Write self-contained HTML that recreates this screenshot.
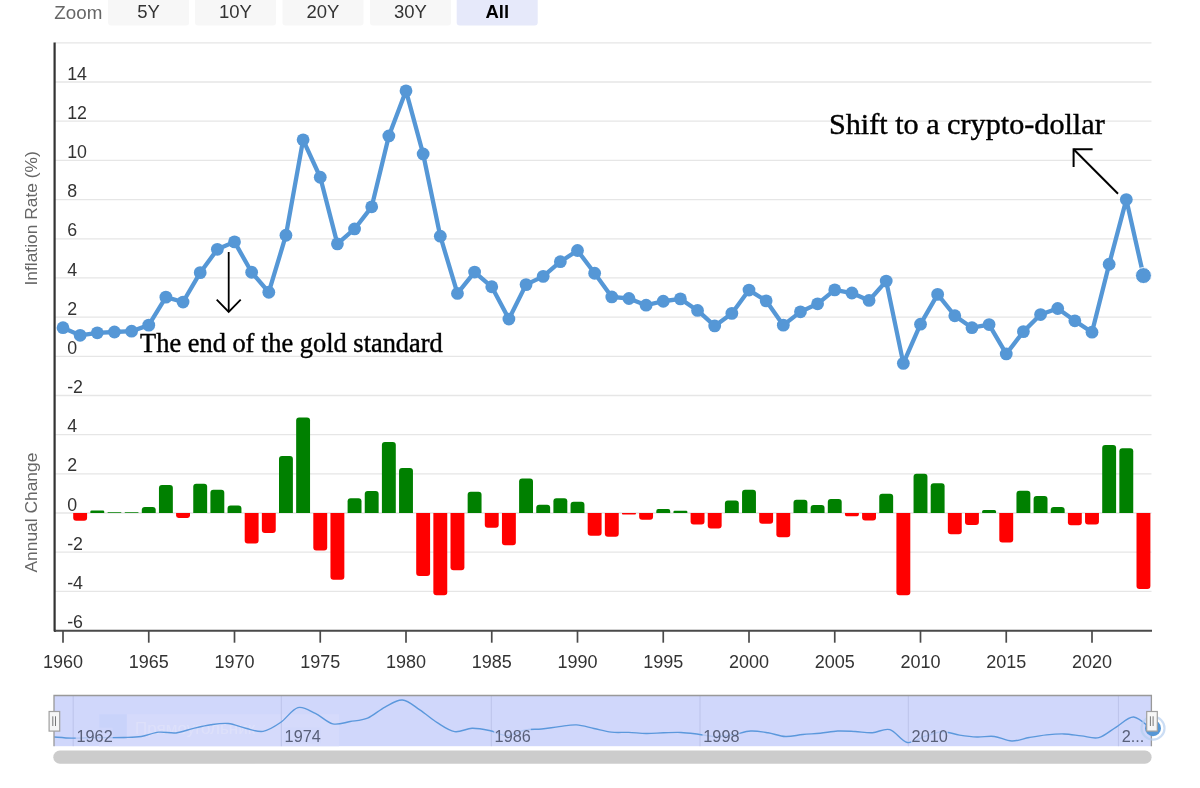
<!DOCTYPE html><html><head><meta charset="utf-8"><style>html,body{margin:0;padding:0;background:#fff;width:1200px;height:788px;overflow:hidden}svg{display:block;will-change:transform;filter:blur(0.45px)}text{font-family:"Liberation Sans",sans-serif}.ser{font-family:"Liberation Serif",serif}</style></head><body>
<svg width="1200" height="788" viewBox="0 0 1200 788">
<rect width="1200" height="788" fill="#fff"/>
<text x="54.3" y="19.2" font-size="18.8" fill="#666">Zoom</text>
<path d="M108.1 -4 H189.1 V22.6 Q189.1 25.6 186.1 25.6 H111.1 Q108.1 25.6 108.1 22.6 Z" fill="#f7f7f7"/>
<text x="148.6" y="18.4" font-size="18.5" text-anchor="middle" fill="#333">5Y</text>
<path d="M195 -4 H276 V22.6 Q276 25.6 273 25.6 H198 Q195 25.6 195 22.6 Z" fill="#f7f7f7"/>
<text x="235.5" y="18.4" font-size="18.5" text-anchor="middle" fill="#333">10Y</text>
<path d="M282.5 -4 H363.5 V22.6 Q363.5 25.6 360.5 25.6 H285.5 Q282.5 25.6 282.5 22.6 Z" fill="#f7f7f7"/>
<text x="323.0" y="18.4" font-size="18.5" text-anchor="middle" fill="#333">20Y</text>
<path d="M370 -4 H451 V22.6 Q451 25.6 448 25.6 H373 Q370 25.6 370 22.6 Z" fill="#f7f7f7"/>
<text x="410.5" y="18.4" font-size="18.5" text-anchor="middle" fill="#333">30Y</text>
<path d="M456.7 -4 H537.7 V22.6 Q537.7 25.6 534.7 25.6 H459.7 Q456.7 25.6 456.7 22.6 Z" fill="#e6e9fa"/>
<text x="497.2" y="18.4" font-size="18.5" font-weight="bold" text-anchor="middle" fill="#000">All</text>
<line x1="55.0" y1="42.9" x2="1151.5" y2="42.9" stroke="#e6e6e6" stroke-width="1.3"/>
<line x1="55.0" y1="82.0" x2="1151.5" y2="82.0" stroke="#e6e6e6" stroke-width="1.3"/>
<line x1="55.0" y1="121.2" x2="1151.5" y2="121.2" stroke="#e6e6e6" stroke-width="1.3"/>
<line x1="55.0" y1="160.4" x2="1151.5" y2="160.4" stroke="#e6e6e6" stroke-width="1.3"/>
<line x1="55.0" y1="199.6" x2="1151.5" y2="199.6" stroke="#e6e6e6" stroke-width="1.3"/>
<line x1="55.0" y1="238.8" x2="1151.5" y2="238.8" stroke="#e6e6e6" stroke-width="1.3"/>
<line x1="55.0" y1="277.9" x2="1151.5" y2="277.9" stroke="#e6e6e6" stroke-width="1.3"/>
<line x1="55.0" y1="317.1" x2="1151.5" y2="317.1" stroke="#e6e6e6" stroke-width="1.3"/>
<line x1="55.0" y1="356.3" x2="1151.5" y2="356.3" stroke="#e6e6e6" stroke-width="1.3"/>
<line x1="55.0" y1="395.5" x2="1151.5" y2="395.5" stroke="#e6e6e6" stroke-width="1.3"/>
<line x1="55.0" y1="434.7" x2="1151.5" y2="434.7" stroke="#e6e6e6" stroke-width="1.3"/>
<line x1="55.0" y1="473.8" x2="1151.5" y2="473.8" stroke="#e6e6e6" stroke-width="1.3"/>
<line x1="55.0" y1="513.0" x2="1151.5" y2="513.0" stroke="#e6e6e6" stroke-width="1.3"/>
<line x1="55.0" y1="552.2" x2="1151.5" y2="552.2" stroke="#e6e6e6" stroke-width="1.3"/>
<line x1="55.0" y1="591.4" x2="1151.5" y2="591.4" stroke="#e6e6e6" stroke-width="1.3"/>
<line x1="55.0" y1="630.6" x2="1151.5" y2="630.6" stroke="#e6e6e6" stroke-width="1.3"/>
<text x="67.2" y="79.6" font-size="17.8" fill="#333">14</text>
<text x="67.2" y="118.8" font-size="17.8" fill="#333">12</text>
<text x="67.2" y="158.0" font-size="17.8" fill="#333">10</text>
<text x="67.2" y="197.2" font-size="17.8" fill="#333">8</text>
<text x="67.2" y="236.4" font-size="17.8" fill="#333">6</text>
<text x="67.2" y="275.5" font-size="17.8" fill="#333">4</text>
<text x="67.2" y="314.7" font-size="17.8" fill="#333">2</text>
<text x="67.2" y="353.9" font-size="17.8" fill="#333">0</text>
<text x="67.2" y="393.1" font-size="17.8" fill="#333">-2</text>
<text x="67.2" y="432.3" font-size="17.8" fill="#333">4</text>
<text x="67.2" y="471.4" font-size="17.8" fill="#333">2</text>
<text x="67.2" y="510.6" font-size="17.8" fill="#333">0</text>
<text x="67.2" y="549.8" font-size="17.8" fill="#333">-2</text>
<text x="67.2" y="589.0" font-size="17.8" fill="#333">-4</text>
<text x="67.2" y="628.2" font-size="17.8" fill="#333">-6</text>
<text transform="translate(36.5 218.4) rotate(-90)" font-size="17.4" fill="#666" text-anchor="middle">Inflation Rate (%)</text>
<text transform="translate(36.8 512.6) rotate(-90)" font-size="17.4" fill="#666" text-anchor="middle">Annual Change</text>
<path d="M73.20 513.02 V517.66 Q73.20 520.66 76.20 520.66 H84.10 Q87.10 520.66 87.10 517.66 V513.02 Z" fill="#ff0000"/>
<path d="M90.35 513.02 V511.75 Q90.35 510.47 91.62 510.47 H102.98 Q104.25 510.47 104.25 511.75 V513.02 Z" fill="#008000"/>
<path d="M107.50 513.02 V512.63 Q107.50 512.24 107.89 512.24 H121.01 Q121.40 512.24 121.40 512.63 V513.02 Z" fill="#008000"/>
<path d="M124.65 513.02 V512.63 Q124.65 512.24 125.04 512.24 H138.16 Q138.55 512.24 138.55 512.63 V513.02 Z" fill="#008000"/>
<path d="M141.80 513.02 V509.95 Q141.80 506.95 144.80 506.95 H152.70 Q155.70 506.95 155.70 509.95 V513.02 Z" fill="#008000"/>
<path d="M158.95 513.02 V488.01 Q158.95 485.01 161.95 485.01 H169.85 Q172.85 485.01 172.85 488.01 V513.02 Z" fill="#008000"/>
<path d="M176.10 513.02 V515.47 Q176.10 517.92 178.55 517.92 H187.55 Q190.00 517.92 190.00 515.47 V513.02 Z" fill="#ff0000"/>
<path d="M193.25 513.02 V486.63 Q193.25 483.63 196.25 483.63 H204.15 Q207.15 483.63 207.15 486.63 V513.02 Z" fill="#008000"/>
<path d="M210.40 513.02 V492.71 Q210.40 489.71 213.40 489.71 H221.30 Q224.30 489.71 224.30 492.71 V513.02 Z" fill="#008000"/>
<path d="M227.55 513.02 V508.58 Q227.55 505.58 230.55 505.58 H238.45 Q241.45 505.58 241.45 508.58 V513.02 Z" fill="#008000"/>
<path d="M244.70 513.02 V540.38 Q244.70 543.38 247.70 543.38 H255.60 Q258.60 543.38 258.60 540.38 V513.02 Z" fill="#ff0000"/>
<path d="M261.85 513.02 V530.00 Q261.85 533.00 264.85 533.00 H272.75 Q275.75 533.00 275.75 530.00 V513.02 Z" fill="#ff0000"/>
<path d="M279.00 513.02 V459.01 Q279.00 456.01 282.00 456.01 H289.90 Q292.90 456.01 292.90 459.01 V513.02 Z" fill="#008000"/>
<path d="M296.15 513.02 V420.62 Q296.15 417.62 299.15 417.62 H307.05 Q310.05 417.62 310.05 420.62 V513.02 Z" fill="#008000"/>
<path d="M313.30 513.02 V547.44 Q313.30 550.44 316.30 550.44 H324.20 Q327.20 550.44 327.20 547.44 V513.02 Z" fill="#ff0000"/>
<path d="M330.45 513.02 V576.63 Q330.45 579.63 333.45 579.63 H341.35 Q344.35 579.63 344.35 576.63 V513.02 Z" fill="#ff0000"/>
<path d="M347.60 513.02 V501.13 Q347.60 498.13 350.60 498.13 H358.50 Q361.50 498.13 361.50 501.13 V513.02 Z" fill="#008000"/>
<path d="M364.75 513.02 V493.88 Q364.75 490.88 367.75 490.88 H375.65 Q378.65 490.88 378.65 493.88 V513.02 Z" fill="#008000"/>
<path d="M381.90 513.02 V445.10 Q381.90 442.10 384.90 442.10 H392.80 Q395.80 442.10 395.80 445.10 V513.02 Z" fill="#008000"/>
<path d="M399.05 513.02 V470.96 Q399.05 467.96 402.05 467.96 H409.95 Q412.95 467.96 412.95 470.96 V513.02 Z" fill="#008000"/>
<path d="M416.20 513.02 V573.10 Q416.20 576.10 419.20 576.10 H427.10 Q430.10 576.10 430.10 573.10 V513.02 Z" fill="#ff0000"/>
<path d="M433.35 513.02 V592.30 Q433.35 595.30 436.35 595.30 H444.25 Q447.25 595.30 447.25 592.30 V513.02 Z" fill="#ff0000"/>
<path d="M450.50 513.02 V567.22 Q450.50 570.22 453.50 570.22 H461.40 Q464.40 570.22 464.40 567.22 V513.02 Z" fill="#ff0000"/>
<path d="M467.65 513.02 V494.67 Q467.65 491.67 470.65 491.67 H478.55 Q481.55 491.67 481.55 494.67 V513.02 Z" fill="#008000"/>
<path d="M484.80 513.02 V524.71 Q484.80 527.71 487.80 527.71 H495.70 Q498.70 527.71 498.70 524.71 V513.02 Z" fill="#ff0000"/>
<path d="M501.95 513.02 V542.34 Q501.95 545.34 504.95 545.34 H512.85 Q515.85 545.34 515.85 542.34 V513.02 Z" fill="#ff0000"/>
<path d="M519.10 513.02 V481.54 Q519.10 478.54 522.10 478.54 H530.00 Q533.00 478.54 533.00 481.54 V513.02 Z" fill="#008000"/>
<path d="M536.25 513.02 V507.79 Q536.25 504.79 539.25 504.79 H547.15 Q550.15 504.79 550.15 507.79 V513.02 Z" fill="#008000"/>
<path d="M553.40 513.02 V501.33 Q553.40 498.33 556.40 498.33 H564.30 Q567.30 498.33 567.30 501.33 V513.02 Z" fill="#008000"/>
<path d="M570.55 513.02 V504.85 Q570.55 501.85 573.55 501.85 H581.45 Q584.45 501.85 584.45 504.85 V513.02 Z" fill="#008000"/>
<path d="M587.70 513.02 V532.74 Q587.70 535.74 590.70 535.74 H598.60 Q601.60 535.74 601.60 532.74 V513.02 Z" fill="#ff0000"/>
<path d="M604.85 513.02 V533.72 Q604.85 536.72 607.85 536.72 H615.75 Q618.75 536.72 618.75 533.72 V513.02 Z" fill="#ff0000"/>
<path d="M622.00 513.02 V513.80 Q622.00 514.59 622.78 514.59 H635.12 Q635.90 514.59 635.90 513.80 V513.02 Z" fill="#ff0000"/>
<path d="M639.15 513.02 V516.68 Q639.15 519.68 642.15 519.68 H650.05 Q653.05 519.68 653.05 516.68 V513.02 Z" fill="#ff0000"/>
<path d="M656.30 513.02 V511.06 Q656.30 509.10 658.26 509.10 H668.24 Q670.20 509.10 670.20 511.06 V513.02 Z" fill="#008000"/>
<path d="M673.45 513.02 V511.84 Q673.45 510.67 674.63 510.67 H686.17 Q687.35 510.67 687.35 511.84 V513.02 Z" fill="#008000"/>
<path d="M690.60 513.02 V521.58 Q690.60 524.58 693.60 524.58 H701.50 Q704.50 524.58 704.50 521.58 V513.02 Z" fill="#ff0000"/>
<path d="M707.75 513.02 V525.50 Q707.75 528.50 710.75 528.50 H718.65 Q721.65 528.50 721.65 525.50 V513.02 Z" fill="#ff0000"/>
<path d="M724.90 513.02 V503.48 Q724.90 500.48 727.90 500.48 H735.80 Q738.80 500.48 738.80 503.48 V513.02 Z" fill="#008000"/>
<path d="M742.05 513.02 V492.71 Q742.05 489.71 745.05 489.71 H752.95 Q755.95 489.71 755.95 492.71 V513.02 Z" fill="#008000"/>
<path d="M759.20 513.02 V520.79 Q759.20 523.79 762.20 523.79 H770.10 Q773.10 523.79 773.10 520.79 V513.02 Z" fill="#ff0000"/>
<path d="M776.35 513.02 V534.31 Q776.35 537.31 779.35 537.31 H787.25 Q790.25 537.31 790.25 534.31 V513.02 Z" fill="#ff0000"/>
<path d="M793.50 513.02 V502.70 Q793.50 499.70 796.50 499.70 H804.40 Q807.40 499.70 807.40 502.70 V513.02 Z" fill="#008000"/>
<path d="M810.65 513.02 V507.99 Q810.65 504.99 813.65 504.99 H821.55 Q824.55 504.99 824.55 507.99 V513.02 Z" fill="#008000"/>
<path d="M827.80 513.02 V502.11 Q827.80 499.11 830.80 499.11 H838.70 Q841.70 499.11 841.70 502.11 V513.02 Z" fill="#008000"/>
<path d="M844.95 513.02 V514.59 Q844.95 516.15 846.52 516.15 H857.28 Q858.85 516.15 858.85 514.59 V513.02 Z" fill="#ff0000"/>
<path d="M862.10 513.02 V517.46 Q862.10 520.46 865.10 520.46 H873.00 Q876.00 520.46 876.00 517.46 V513.02 Z" fill="#ff0000"/>
<path d="M879.25 513.02 V496.63 Q879.25 493.63 882.25 493.63 H890.15 Q893.15 493.63 893.15 496.63 V513.02 Z" fill="#008000"/>
<path d="M896.40 513.02 V592.30 Q896.40 595.30 899.40 595.30 H907.30 Q910.30 595.30 910.30 592.30 V513.02 Z" fill="#ff0000"/>
<path d="M913.55 513.02 V476.84 Q913.55 473.84 916.55 473.84 H924.45 Q927.45 473.84 927.45 476.84 V513.02 Z" fill="#008000"/>
<path d="M930.70 513.02 V486.24 Q930.70 483.24 933.70 483.24 H941.60 Q944.60 483.24 944.60 486.24 V513.02 Z" fill="#008000"/>
<path d="M947.85 513.02 V531.37 Q947.85 534.37 950.85 534.37 H958.75 Q961.75 534.37 961.75 531.37 V513.02 Z" fill="#ff0000"/>
<path d="M965.00 513.02 V521.97 Q965.00 524.97 968.00 524.97 H975.90 Q978.90 524.97 978.90 521.97 V513.02 Z" fill="#ff0000"/>
<path d="M982.15 513.02 V511.45 Q982.15 509.89 983.72 509.89 H994.48 Q996.05 509.89 996.05 511.45 V513.02 Z" fill="#008000"/>
<path d="M999.30 513.02 V539.40 Q999.30 542.40 1002.30 542.40 H1010.20 Q1013.20 542.40 1013.20 539.40 V513.02 Z" fill="#ff0000"/>
<path d="M1016.45 513.02 V493.69 Q1016.45 490.69 1019.45 490.69 H1027.35 Q1030.35 490.69 1030.35 493.69 V513.02 Z" fill="#008000"/>
<path d="M1033.60 513.02 V498.98 Q1033.60 495.98 1036.60 495.98 H1044.50 Q1047.50 495.98 1047.50 498.98 V513.02 Z" fill="#008000"/>
<path d="M1050.75 513.02 V509.95 Q1050.75 506.95 1053.75 506.95 H1061.65 Q1064.65 506.95 1064.65 509.95 V513.02 Z" fill="#008000"/>
<path d="M1067.90 513.02 V522.36 Q1067.90 525.36 1070.90 525.36 H1078.80 Q1081.80 525.36 1081.80 522.36 V513.02 Z" fill="#ff0000"/>
<path d="M1085.05 513.02 V521.38 Q1085.05 524.38 1088.05 524.38 H1095.95 Q1098.95 524.38 1098.95 521.38 V513.02 Z" fill="#ff0000"/>
<path d="M1102.20 513.02 V448.04 Q1102.20 445.04 1105.20 445.04 H1113.10 Q1116.10 445.04 1116.10 448.04 V513.02 Z" fill="#008000"/>
<path d="M1119.35 513.02 V451.37 Q1119.35 448.37 1122.35 448.37 H1130.25 Q1133.25 448.37 1133.25 451.37 V513.02 Z" fill="#008000"/>
<path d="M1136.50 513.02 V586.03 Q1136.50 589.03 1139.50 589.03 H1147.40 Q1150.40 589.03 1150.40 586.03 V513.02 Z" fill="#ff0000"/>
<path d="M54.6 42.5 V630.8 H56" fill="none" stroke="#333" stroke-width="2.2" stroke-linejoin="round"/>
<line x1="55" y1="630.8" x2="1152" y2="630.8" stroke="#4a4a4a" stroke-width="1.9"/>
<line x1="63.00" y1="631" x2="63.00" y2="642.7" stroke="#4a4a4a" stroke-width="1.7"/>
<text x="63.00" y="667.6" font-size="18" text-anchor="middle" fill="#333">1960</text>
<line x1="148.75" y1="631" x2="148.75" y2="642.7" stroke="#4a4a4a" stroke-width="1.7"/>
<text x="148.75" y="667.6" font-size="18" text-anchor="middle" fill="#333">1965</text>
<line x1="234.50" y1="631" x2="234.50" y2="642.7" stroke="#4a4a4a" stroke-width="1.7"/>
<text x="234.50" y="667.6" font-size="18" text-anchor="middle" fill="#333">1970</text>
<line x1="320.25" y1="631" x2="320.25" y2="642.7" stroke="#4a4a4a" stroke-width="1.7"/>
<text x="320.25" y="667.6" font-size="18" text-anchor="middle" fill="#333">1975</text>
<line x1="406.00" y1="631" x2="406.00" y2="642.7" stroke="#4a4a4a" stroke-width="1.7"/>
<text x="406.00" y="667.6" font-size="18" text-anchor="middle" fill="#333">1980</text>
<line x1="491.75" y1="631" x2="491.75" y2="642.7" stroke="#4a4a4a" stroke-width="1.7"/>
<text x="491.75" y="667.6" font-size="18" text-anchor="middle" fill="#333">1985</text>
<line x1="577.50" y1="631" x2="577.50" y2="642.7" stroke="#4a4a4a" stroke-width="1.7"/>
<text x="577.50" y="667.6" font-size="18" text-anchor="middle" fill="#333">1990</text>
<line x1="663.25" y1="631" x2="663.25" y2="642.7" stroke="#4a4a4a" stroke-width="1.7"/>
<text x="663.25" y="667.6" font-size="18" text-anchor="middle" fill="#333">1995</text>
<line x1="749.00" y1="631" x2="749.00" y2="642.7" stroke="#4a4a4a" stroke-width="1.7"/>
<text x="749.00" y="667.6" font-size="18" text-anchor="middle" fill="#333">2000</text>
<line x1="834.75" y1="631" x2="834.75" y2="642.7" stroke="#4a4a4a" stroke-width="1.7"/>
<text x="834.75" y="667.6" font-size="18" text-anchor="middle" fill="#333">2005</text>
<line x1="920.50" y1="631" x2="920.50" y2="642.7" stroke="#4a4a4a" stroke-width="1.7"/>
<text x="920.50" y="667.6" font-size="18" text-anchor="middle" fill="#333">2010</text>
<line x1="1006.25" y1="631" x2="1006.25" y2="642.7" stroke="#4a4a4a" stroke-width="1.7"/>
<text x="1006.25" y="667.6" font-size="18" text-anchor="middle" fill="#333">2015</text>
<line x1="1092.00" y1="631" x2="1092.00" y2="642.7" stroke="#4a4a4a" stroke-width="1.7"/>
<text x="1092.00" y="667.6" font-size="18" text-anchor="middle" fill="#333">2020</text>
<polyline points="63.00,327.70 80.15,335.34 97.30,332.79 114.45,332.01 131.60,331.22 148.75,325.15 165.90,297.14 183.05,302.04 200.20,272.65 217.35,249.34 234.50,241.89 251.65,272.26 268.80,292.24 285.95,235.23 303.10,139.83 320.25,177.25 337.40,243.85 354.55,228.97 371.70,206.83 388.85,135.91 406.00,90.86 423.15,153.94 440.30,236.21 457.45,293.42 474.60,272.06 491.75,286.76 508.90,319.08 526.05,284.60 543.20,276.37 560.35,261.68 577.50,250.51 594.65,273.24 611.80,296.94 628.95,298.51 646.10,305.17 663.25,301.25 680.40,298.90 697.55,310.46 714.70,325.94 731.85,313.40 749.00,290.09 766.15,300.86 783.30,325.15 800.45,311.83 817.60,303.80 834.75,289.89 851.90,293.02 869.05,300.47 886.20,281.07 903.35,363.35 920.50,324.17 937.65,294.40 954.80,315.75 971.95,327.70 989.10,324.56 1006.25,353.95 1023.40,331.62 1040.55,314.57 1057.70,308.50 1074.85,320.84 1092.00,332.20 1109.15,264.23 1126.30,199.58 1143.45,275.59" fill="none" stroke="#5597d6" stroke-width="4.3" stroke-linejoin="round" stroke-linecap="round"/>
<circle cx="63.00" cy="327.70" r="6.4" fill="#5597d6"/>
<circle cx="80.15" cy="335.34" r="6.4" fill="#5597d6"/>
<circle cx="97.30" cy="332.79" r="6.4" fill="#5597d6"/>
<circle cx="114.45" cy="332.01" r="6.4" fill="#5597d6"/>
<circle cx="131.60" cy="331.22" r="6.4" fill="#5597d6"/>
<circle cx="148.75" cy="325.15" r="6.4" fill="#5597d6"/>
<circle cx="165.90" cy="297.14" r="6.4" fill="#5597d6"/>
<circle cx="183.05" cy="302.04" r="6.4" fill="#5597d6"/>
<circle cx="200.20" cy="272.65" r="6.4" fill="#5597d6"/>
<circle cx="217.35" cy="249.34" r="6.4" fill="#5597d6"/>
<circle cx="234.50" cy="241.89" r="6.4" fill="#5597d6"/>
<circle cx="251.65" cy="272.26" r="6.4" fill="#5597d6"/>
<circle cx="268.80" cy="292.24" r="6.4" fill="#5597d6"/>
<circle cx="285.95" cy="235.23" r="6.4" fill="#5597d6"/>
<circle cx="303.10" cy="139.83" r="6.4" fill="#5597d6"/>
<circle cx="320.25" cy="177.25" r="6.4" fill="#5597d6"/>
<circle cx="337.40" cy="243.85" r="6.4" fill="#5597d6"/>
<circle cx="354.55" cy="228.97" r="6.4" fill="#5597d6"/>
<circle cx="371.70" cy="206.83" r="6.4" fill="#5597d6"/>
<circle cx="388.85" cy="135.91" r="6.4" fill="#5597d6"/>
<circle cx="406.00" cy="90.86" r="6.4" fill="#5597d6"/>
<circle cx="423.15" cy="153.94" r="6.4" fill="#5597d6"/>
<circle cx="440.30" cy="236.21" r="6.4" fill="#5597d6"/>
<circle cx="457.45" cy="293.42" r="6.4" fill="#5597d6"/>
<circle cx="474.60" cy="272.06" r="6.4" fill="#5597d6"/>
<circle cx="491.75" cy="286.76" r="6.4" fill="#5597d6"/>
<circle cx="508.90" cy="319.08" r="6.4" fill="#5597d6"/>
<circle cx="526.05" cy="284.60" r="6.4" fill="#5597d6"/>
<circle cx="543.20" cy="276.37" r="6.4" fill="#5597d6"/>
<circle cx="560.35" cy="261.68" r="6.4" fill="#5597d6"/>
<circle cx="577.50" cy="250.51" r="6.4" fill="#5597d6"/>
<circle cx="594.65" cy="273.24" r="6.4" fill="#5597d6"/>
<circle cx="611.80" cy="296.94" r="6.4" fill="#5597d6"/>
<circle cx="628.95" cy="298.51" r="6.4" fill="#5597d6"/>
<circle cx="646.10" cy="305.17" r="6.4" fill="#5597d6"/>
<circle cx="663.25" cy="301.25" r="6.4" fill="#5597d6"/>
<circle cx="680.40" cy="298.90" r="6.4" fill="#5597d6"/>
<circle cx="697.55" cy="310.46" r="6.4" fill="#5597d6"/>
<circle cx="714.70" cy="325.94" r="6.4" fill="#5597d6"/>
<circle cx="731.85" cy="313.40" r="6.4" fill="#5597d6"/>
<circle cx="749.00" cy="290.09" r="6.4" fill="#5597d6"/>
<circle cx="766.15" cy="300.86" r="6.4" fill="#5597d6"/>
<circle cx="783.30" cy="325.15" r="6.4" fill="#5597d6"/>
<circle cx="800.45" cy="311.83" r="6.4" fill="#5597d6"/>
<circle cx="817.60" cy="303.80" r="6.4" fill="#5597d6"/>
<circle cx="834.75" cy="289.89" r="6.4" fill="#5597d6"/>
<circle cx="851.90" cy="293.02" r="6.4" fill="#5597d6"/>
<circle cx="869.05" cy="300.47" r="6.4" fill="#5597d6"/>
<circle cx="886.20" cy="281.07" r="6.4" fill="#5597d6"/>
<circle cx="903.35" cy="363.35" r="6.4" fill="#5597d6"/>
<circle cx="920.50" cy="324.17" r="6.4" fill="#5597d6"/>
<circle cx="937.65" cy="294.40" r="6.4" fill="#5597d6"/>
<circle cx="954.80" cy="315.75" r="6.4" fill="#5597d6"/>
<circle cx="971.95" cy="327.70" r="6.4" fill="#5597d6"/>
<circle cx="989.10" cy="324.56" r="6.4" fill="#5597d6"/>
<circle cx="1006.25" cy="353.95" r="6.4" fill="#5597d6"/>
<circle cx="1023.40" cy="331.62" r="6.4" fill="#5597d6"/>
<circle cx="1040.55" cy="314.57" r="6.4" fill="#5597d6"/>
<circle cx="1057.70" cy="308.50" r="6.4" fill="#5597d6"/>
<circle cx="1074.85" cy="320.84" r="6.4" fill="#5597d6"/>
<circle cx="1092.00" cy="332.20" r="6.4" fill="#5597d6"/>
<circle cx="1109.15" cy="264.23" r="6.4" fill="#5597d6"/>
<circle cx="1126.30" cy="199.58" r="6.4" fill="#5597d6"/>
<circle cx="1143.45" cy="275.59" r="8" fill="#5597d6" stroke="#fff" stroke-width="1"/>
<text class="ser" x="140.1" y="351.5" font-size="26.4" fill="#000" stroke="#000" stroke-width="0.4">The end of the gold standard</text>
<line x1="228.7" y1="252" x2="228.7" y2="312" stroke="#000" stroke-width="1.8"/>
<polyline points="216.7,299.7 228.7,312 240.7,299.7" fill="none" stroke="#000" stroke-width="1.8"/>
<text class="ser" x="828.9" y="133.5" font-size="30.2" fill="#000" stroke="#000" stroke-width="0.4">Shift to a crypto-dollar</text>
<line x1="1118" y1="193.7" x2="1073.6" y2="149.3" stroke="#000" stroke-width="2"/>
<polyline points="1092.6,149.3 1073.6,149.3 1073.6,167" fill="none" stroke="#000" stroke-width="2"/>
<rect x="54.0" y="695.5" width="1097.4" height="50.700000000000045" fill="#d0d7fb"/>
<rect x="99" y="714.2" width="240" height="32" fill="#d5dafb"/>
<rect x="99.2" y="714.2" width="27.6" height="24.8" fill="#c9d3fa"/>
<text x="135" y="734" font-size="17" fill="#dde0fa">Прямоугольник</text>
<line x1="73.2" y1="695.5" x2="73.2" y2="746.2" stroke="#bcc3ea" stroke-width="1"/>
<line x1="281.3" y1="695.5" x2="281.3" y2="746.2" stroke="#bcc3ea" stroke-width="1"/>
<line x1="491.3" y1="695.5" x2="491.3" y2="746.2" stroke="#bcc3ea" stroke-width="1"/>
<line x1="700" y1="695.5" x2="700" y2="746.2" stroke="#bcc3ea" stroke-width="1"/>
<line x1="908.3" y1="695.5" x2="908.3" y2="746.2" stroke="#bcc3ea" stroke-width="1"/>
<line x1="1118.4" y1="695.5" x2="1118.4" y2="746.2" stroke="#bcc3ea" stroke-width="1"/>
<path d="M54.20 736.94 C57.10 737.14 65.81 738.00 71.61 738.13 C77.41 738.26 83.22 737.82 89.02 737.73 C94.82 737.65 100.63 737.65 106.43 737.61 C112.23 737.57 118.04 737.67 123.84 737.49 C129.64 737.31 135.45 737.43 141.25 736.54 C147.05 735.66 152.86 732.77 158.66 732.17 C164.46 731.57 170.27 733.57 176.07 732.94 C181.87 732.30 187.68 729.73 193.48 728.36 C199.28 726.99 205.09 725.52 210.89 724.72 C216.69 723.92 222.50 722.96 228.30 723.56 C234.10 724.15 239.91 726.99 245.71 728.29 C251.51 729.60 257.32 732.37 263.12 731.41 C268.92 730.45 274.73 726.48 280.53 722.52 C286.33 718.56 292.14 709.15 297.94 707.64 C303.74 706.14 309.55 710.77 315.35 713.48 C321.15 716.18 326.96 722.52 332.76 723.86 C338.56 725.21 344.37 722.51 350.17 721.54 C355.97 720.58 361.78 720.51 367.58 718.09 C373.38 715.67 379.19 710.05 384.99 707.03 C390.79 704.02 396.60 699.54 402.40 700.00 C408.20 700.47 414.01 706.06 419.81 709.84 C425.61 713.62 431.42 719.05 437.22 722.67 C443.02 726.30 448.83 730.66 454.63 731.59 C460.43 732.53 466.24 728.44 472.04 728.26 C477.84 728.09 483.65 729.33 489.45 730.55 C495.25 731.78 501.06 735.65 506.86 735.60 C512.66 735.54 518.47 731.33 524.27 730.22 C530.07 729.11 535.88 729.53 541.68 728.94 C547.48 728.34 553.29 727.32 559.09 726.64 C564.89 725.97 570.70 724.60 576.50 724.90 C582.30 725.20 588.11 727.24 593.91 728.45 C599.71 729.65 605.52 731.49 611.32 732.14 C617.12 732.80 622.93 732.17 628.73 732.39 C634.53 732.60 640.34 733.36 646.14 733.43 C651.94 733.50 657.75 732.98 663.55 732.82 C669.35 732.65 675.16 732.21 680.96 732.45 C686.76 732.69 692.57 733.55 698.37 734.25 C704.17 734.95 709.98 736.59 715.78 736.66 C721.58 736.74 727.39 735.64 733.19 734.71 C738.99 733.78 744.80 731.40 750.60 731.07 C756.40 730.75 762.21 731.84 768.01 732.75 C773.81 733.67 779.62 736.26 785.42 736.54 C791.22 736.83 797.03 735.02 802.83 734.47 C808.63 733.91 814.44 733.78 820.24 733.21 C826.04 732.64 831.85 731.32 837.65 731.04 C843.45 730.76 849.26 731.26 855.06 731.53 C860.86 731.81 866.67 733.00 872.47 732.69 C878.27 732.38 884.08 728.03 889.88 729.67 C895.68 731.30 901.49 741.38 907.29 742.50 C913.09 743.62 918.90 738.18 924.70 736.39 C930.50 734.60 936.31 731.97 942.11 731.75 C947.91 731.53 953.72 734.21 959.52 735.08 C965.32 735.94 971.13 736.71 976.93 736.94 C982.73 737.17 988.54 735.77 994.34 736.45 C1000.14 737.13 1005.95 740.85 1011.75 741.03 C1017.55 741.22 1023.36 738.57 1029.16 737.55 C1034.96 736.53 1040.77 735.49 1046.57 734.89 C1052.37 734.29 1058.18 733.78 1063.98 733.95 C1069.78 734.11 1075.59 735.25 1081.39 735.87 C1087.19 736.49 1093.00 739.11 1098.80 737.64 C1104.60 736.17 1110.41 730.49 1116.21 727.04 C1122.01 723.59 1127.82 716.66 1133.62 716.96 C1139.42 717.26 1148.13 726.84 1151.03 728.81" fill="none" stroke="#5b98dc" stroke-width="1.4"/>
<rect x="75.7" y="727.5" width="37" height="16" fill="#d0d7fb" opacity="0.75"/>
<text x="76.5" y="741.7" font-size="16.3" fill="#596079">1962</text>
<rect x="283.8" y="727.5" width="37" height="16" fill="#d0d7fb" opacity="0.75"/>
<text x="284.6" y="741.7" font-size="16.3" fill="#596079">1974</text>
<rect x="493.8" y="727.5" width="37" height="16" fill="#d0d7fb" opacity="0.75"/>
<text x="494.6" y="741.7" font-size="16.3" fill="#596079">1986</text>
<rect x="702.5" y="727.5" width="37" height="16" fill="#d0d7fb" opacity="0.75"/>
<text x="703.3" y="741.7" font-size="16.3" fill="#596079">1998</text>
<rect x="910.8" y="727.5" width="37" height="16" fill="#d0d7fb" opacity="0.75"/>
<text x="911.5999999999999" y="741.7" font-size="16.3" fill="#596079">2010</text>
<rect x="1120.9" y="727.5" width="22" height="16" fill="#d0d7fb" opacity="0.75"/>
<text x="1121.7" y="741.7" font-size="16.3" fill="#596079">2...</text>
<path d="M54.0 746.2 V695.5 H1151.4 V746.2" fill="none" stroke="#999" stroke-width="1.3"/>
<circle cx="1153" cy="728.2" r="11.5" fill="none" stroke="#b5cff0" stroke-width="2.2" opacity="0.7"/>
<circle cx="1153" cy="728.2" r="8" fill="#5597d6"/>
<rect x="49.1" y="711.5" width="10.6" height="19.6" fill="#f6f6f6" stroke="#a0a0a0" stroke-width="1.2"/>
<line x1="52.800000000000004" y1="716.3" x2="52.800000000000004" y2="726" stroke="#777" stroke-width="1"/>
<line x1="55.5" y1="716.3" x2="55.5" y2="726" stroke="#777" stroke-width="1"/>
<rect x="1146.7" y="711.5" width="10.6" height="19.6" fill="#f6f6f6" stroke="#a0a0a0" stroke-width="1.2"/>
<line x1="1150.4" y1="716.3" x2="1150.4" y2="726" stroke="#777" stroke-width="1"/>
<line x1="1153.1000000000001" y1="716.3" x2="1153.1000000000001" y2="726" stroke="#777" stroke-width="1"/>
<rect x="53.3" y="750.6" width="1098.3" height="13.2" rx="6.6" fill="#cccccc"/>
</svg></body></html>
